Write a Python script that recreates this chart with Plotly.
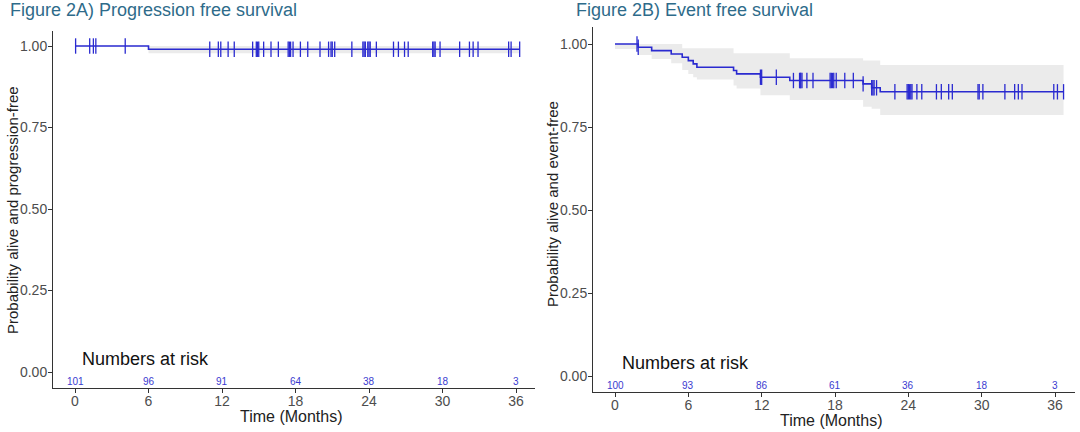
import plotly.graph_objects as go

# ---------------- data ----------------
tick_months = [0, 6, 12, 18, 24, 30, 36]

# Panel A: progression free survival
a_time = [0, 6.0, 36.3]
a_surv = [1.0, 0.99, 0.99]
a_upper = [1.0, 1.0, 1.0]
a_lower = [1.0, 0.978, 0.978]
a_censor = [0.05, 1.2, 1.5, 1.7, 4.1, 11.0, 11.7, 11.9, 12.5, 13.0, 14.5, 14.8, 14.9, 15.0,
            15.4, 16.0, 16.6, 17.4, 17.5, 17.6, 17.8, 18.4, 19.0, 20.0, 20.7, 20.9,
            21.0, 21.2, 22.6, 23.5, 23.6, 23.7, 23.9, 24.0, 24.1, 24.6, 26.0, 26.4,
            26.9, 27.2, 29.2, 29.3, 29.4, 29.8, 31.4, 32.2, 32.5, 32.9, 35.4, 35.6, 36.3]
a_risk = [101, 96, 91, 64, 38, 18, 3]

# Panel B: event free survival
b_time = [0, 1.9, 3.0, 4.6, 5.5, 6.0, 6.4, 6.7, 9.7, 9.95, 11.9, 14.3, 20.3, 21.0, 21.7, 36.7]
b_surv = [1.0, 0.99, 0.98, 0.97, 0.96, 0.95, 0.94, 0.93, 0.92, 0.91, 0.90, 0.89, 0.88, 0.868, 0.856, 0.856]
b_upper = [1.0, 1.0, 1.0, 1.0, 0.987, 0.987, 0.987, 0.987, 0.972, 0.972, 0.972, 0.957, 0.95, 0.95, 0.937, 0.937]
b_lower = [0.985, 0.967, 0.955, 0.942, 0.922, 0.91, 0.90, 0.893, 0.875, 0.866, 0.846, 0.831, 0.811, 0.805, 0.786, 0.786]
b_censor = [1.8, 1.9, 11.9, 12.0, 13.2, 14.6, 15.1, 15.15, 15.2, 15.3, 15.7, 16.2, 17.6, 17.7,
            17.8, 17.9, 18.1, 18.8, 19.5, 20.3, 21.0, 21.1, 21.2, 21.4, 22.9, 23.9, 24.0,
            24.1, 24.2, 24.3, 24.7, 25.1, 26.3, 26.7, 27.3, 27.6, 29.7, 29.8, 30.1, 31.9,
            32.7, 33.0, 33.3, 35.9, 36.2, 36.7]
b_risk = [100, 93, 86, 61, 36, 18, 3]

BLUE = "#2a2ad0"
BAND = "#ebebeb"
TITLE_COL = "#2e6b8a"
AX_COL = "#333333"
FONT = "Liberation Sans, Arial, sans-serif"
W, H = 1080, 432


def step_value(times, vals, t):
    v = vals[0]
    for ti, vi in zip(times, vals):
        if ti <= t:
            v = vi
    return v


fig = go.Figure()

panels = [
    dict(time=a_time, surv=a_surv, up=a_upper, lo=a_lower, cens=a_censor, risk=a_risk,
         xa="x", ya="y", px=(53, 535), py=(31, 388), x0=75, x36=516, y0=372, y1=46,
         title="Figure 2A) Progression free survival", title_x=8,
         ytitle="Probability alive and progression-free", ytitle_x=12, ytitle_y=210),
    dict(time=b_time, surv=b_surv, up=b_upper, lo=b_lower, cens=b_censor, risk=b_risk,
         xa="x2", ya="y2", px=(593, 1075), py=(27, 392), x0=615, x36=1055, y0=376, y1=44,
         title="Figure 2B) Event free survival", title_x=574,
         ytitle="Probability alive and event-free", ytitle_x=552, ytitle_y=204),
]

layout_axes = {}
annotations = []
for i, p in enumerate(panels):
    xa, ya = p["xa"], p["ya"]
    # band
    fig.add_trace(go.Scatter(x=p["time"], y=p["up"], mode="lines", line=dict(width=0, shape="hv"),
                             hoverinfo="skip", showlegend=False, xaxis=xa, yaxis=ya))
    fig.add_trace(go.Scatter(x=p["time"], y=p["lo"], mode="lines", line=dict(width=0, shape="hv"),
                             fill="tonexty", fillcolor=BAND, hoverinfo="skip", showlegend=False,
                             xaxis=xa, yaxis=ya))
    # curve
    fig.add_trace(go.Scatter(x=p["time"], y=p["surv"], mode="lines",
                             line=dict(color=BLUE, width=1.6, shape="hv"),
                             showlegend=False, xaxis=xa, yaxis=ya))
    # censor marks
    cy = [step_value(p["time"], p["surv"], t) for t in p["cens"]]
    fig.add_trace(go.Scatter(x=p["cens"], y=cy, mode="markers",
                             marker=dict(symbol="line-ns", size=11,
                                         line=dict(color=BLUE, width=1.3)),
                             showlegend=False, xaxis=xa, yaxis=ya))
    # axis geometry
    ppm = (p["x36"] - p["x0"]) / 36.0
    xr = [(p["px"][0] - p["x0"]) / ppm, (p["px"][1] - p["x0"]) / ppm]
    ppu = p["y0"] - p["y1"]
    yr = [(p["y0"] - p["py"][1]) / ppu, (p["y0"] - p["py"][0]) / ppu]
    axkey = "xaxis" if i == 0 else "xaxis2"
    aykey = "yaxis" if i == 0 else "yaxis2"
    common = dict(showgrid=False, zeroline=False, showline=True, linecolor=AX_COL, linewidth=1,
                  ticks="outside", ticklen=4, tickcolor=AX_COL, tickwidth=1,
                  tickfont=dict(family=FONT, size=14, color="#4d4d4d"))
    layout_axes[axkey] = dict(domain=[p["px"][0] / W, p["px"][1] / W], range=xr,
                              tickvals=tick_months, anchor=ya, ticklabelstandoff=-4, **common)
    layout_axes[aykey] = dict(domain=[1 - p["py"][1] / H, 1 - p["py"][0] / H], range=yr,
                              tickvals=[0, 0.25, 0.5, 0.75, 1.0], tickformat=".2f",
                              anchor=xa, ticklabelstandoff=-2, **common)
    # titles
    annotations.append(dict(text=p["title"], x=p["title_x"] / W, y=1 - 10 / H, xref="paper",
                            yref="paper", xanchor="left", yanchor="middle", showarrow=False,
                            font=dict(family=FONT, size=18, color=TITLE_COL)))
    annotations.append(dict(text=p["ytitle"], x=p["ytitle_x"] / W, y=1 - p["ytitle_y"] / H,
                            xref="paper", yref="paper", xanchor="center", yanchor="middle",
                            showarrow=False, textangle=-90,
                            font=dict(family=FONT, size=15, color="#222222")))
    mid_px = (p["px"][0] + p["px"][1]) / 2
    annotations.append(dict(text="Time (Months)", x=(mid_px - 3) / W,
                            y=1 - (p["py"][1] + 28) / H, xref="paper", yref="paper",
                            xanchor="center", yanchor="middle", showarrow=False,
                            font=dict(family=FONT, size=16, color="#222222")))
    # numbers at risk
    annotations.append(dict(text="Numbers at risk", x=5 / ppm, y=13 / ppu, xref=xa, yref=ya,
                            xanchor="left", yanchor="middle", showarrow=False,
                            font=dict(family=FONT, size=18, color="#111111")))
    for t, n in zip(tick_months, p["risk"]):
        annotations.append(dict(text=str(n), x=t, y=-9 / ppu, xref=xa, yref=ya,
                                xanchor="center", yanchor="middle", showarrow=False,
                                font=dict(family=FONT, size=10, color="#3a3ad0")))

fig.update_layout(width=W, height=H, margin=dict(l=0, r=0, t=0, b=0),
                  plot_bgcolor="white", paper_bgcolor="white", showlegend=False,
                  annotations=annotations, **layout_axes)

fig.write_html("out.html", config={"displayModeBar": False},
               post_script="document.body.style.margin='0';document.body.style.overflow='hidden';")
